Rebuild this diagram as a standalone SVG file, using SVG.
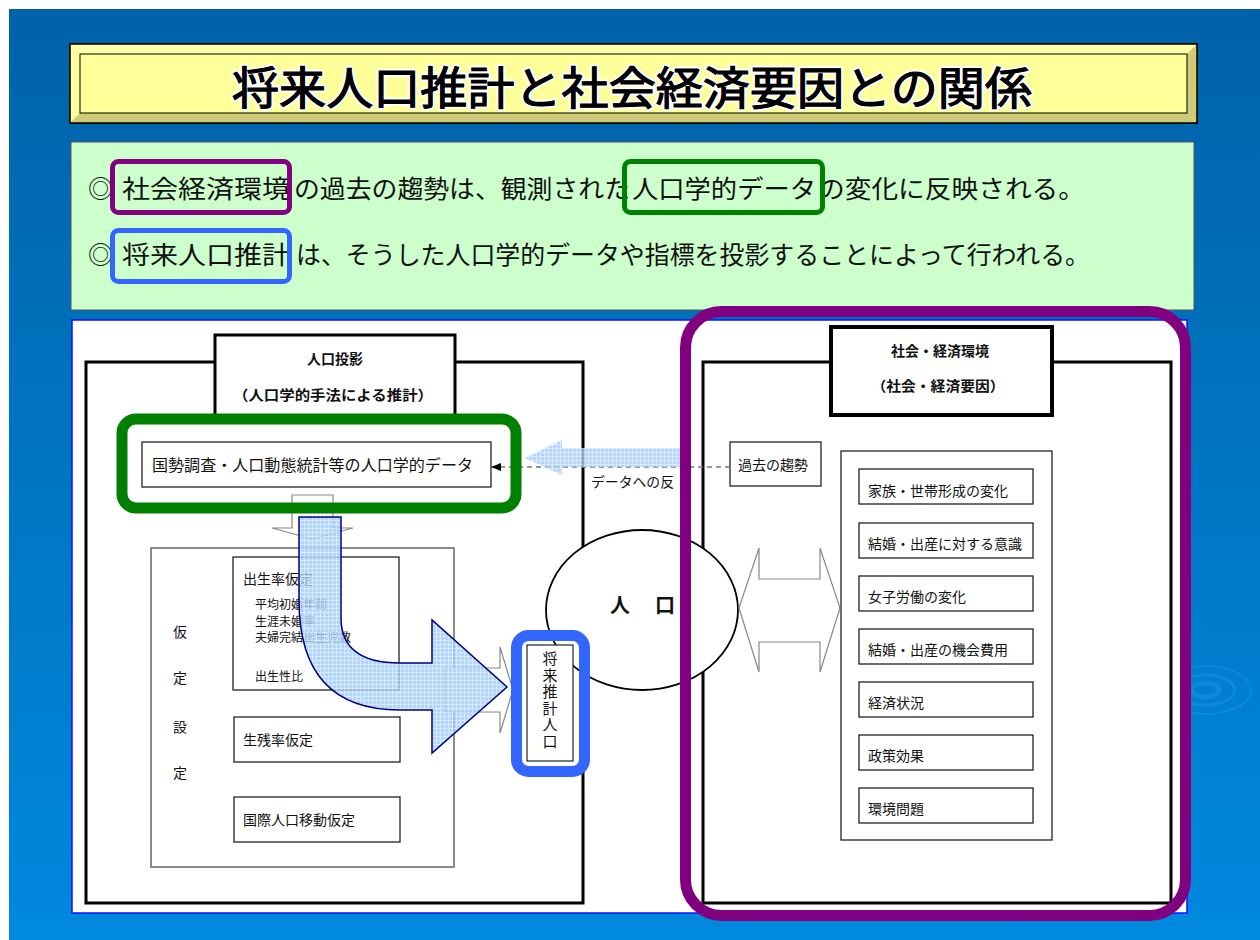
<svg xmlns="http://www.w3.org/2000/svg" width="1260" height="940" viewBox="0 0 1260 940">
<defs>
<linearGradient id="bg" x1="0" y1="0" x2="0" y2="1">
<stop offset="0" stop-color="#0062a8"/>
<stop offset="1" stop-color="#0089de"/>
</linearGradient>
<pattern id="grid" width="4" height="4" patternUnits="userSpaceOnUse">
<rect width="4" height="4" fill="#a4ccfa"/>
<path d="M0 0.5H4M0.5 0V4" stroke="#cfe5ff" stroke-width="1"/>
</pattern>
<marker id="ah" markerWidth="10" markerHeight="8" refX="9" refY="4" orient="auto" markerUnits="userSpaceOnUse">
<path d="M0,0 L10,4 L0,8 Z" fill="#000"/>
</marker>
<style>
text{font-family:'Noto Sans CJK JP','Noto Sans CJK SC',sans-serif;fill:#111}
.t14{font-size:14px}
.t12{font-size:12px}
.b{font-weight:bold}
.box{fill:#fff;stroke:#222;stroke-width:1.3}
.gbox{fill:#fff;stroke:#666;stroke-width:1.5}
.thick{fill:#fff;stroke:#000;stroke-width:3}
.outline{fill:#fff;stroke:#888;stroke-width:1.2}
.hl{fill:none;stroke-width:5}
</style>
</defs>

<rect width="1260" height="940" fill="#fff"/>
<rect x="9" y="9" width="1251" height="931" fill="url(#bg)"/>
<g fill="none" stroke="#1f93ee" stroke-opacity="0.45">
<ellipse cx="1205" cy="690" rx="14" ry="7" stroke-width="5"/>
<ellipse cx="1205" cy="690" rx="30" ry="15" stroke-width="3"/>
<ellipse cx="1205" cy="690" rx="46" ry="24" stroke-width="2"/>
</g>

<g id="title">
<rect x="70" y="44" width="1127" height="79" fill="#ffff99" stroke="#000" stroke-width="1.5"/>
<polygon points="70,44 1197,44 1187,54 80,54" fill="#ffffa8"/>
<polygon points="70,44 80,54 80,113 70,123" fill="#ffffa0"/>
<polygon points="70,123 80,113 1187,113 1197,123" fill="#cccc77"/>
<polygon points="1197,44 1197,123 1187,113 1187,54" fill="#cccc77"/>
<rect x="70" y="44" width="1127" height="79" fill="none" stroke="#000" stroke-width="1.5"/>
<rect x="80" y="54" width="1107" height="59" fill="none" stroke="#000" stroke-width="1"/>
<text x="232" y="105" font-size="45" textLength="800" lengthAdjust="spacingAndGlyphs" stroke="#fff" stroke-width="5" stroke-linejoin="round" paint-order="stroke" style="fill:#000">将来人口推計と社会経済要因との関係</text>
<text x="232" y="105" font-size="45" textLength="800" lengthAdjust="spacingAndGlyphs" stroke="#000" stroke-width="1.1" style="fill:#000">将来人口推計と社会経済要因との関係</text>
</g>

<g id="summary">
<rect x="71" y="142" width="1123" height="168" fill="#ccffcc" stroke="#555" stroke-width="1"/>
<text x="88" y="198" font-size="25">◎</text>
<text x="122" y="198" font-size="25" textLength="168" lengthAdjust="spacingAndGlyphs">社会経済環境</text>
<text x="294" y="198" font-size="25" textLength="336" lengthAdjust="spacingAndGlyphs">の過去の趨勢は、観測された</text>
<text x="632" y="198" font-size="25" textLength="184" lengthAdjust="spacingAndGlyphs">人口学的データ</text>
<text x="818" y="198" font-size="25" textLength="267" lengthAdjust="spacingAndGlyphs">の変化に反映される。</text>
<text x="88" y="264" font-size="25">◎</text>
<text x="122" y="264" font-size="25" textLength="168" lengthAdjust="spacingAndGlyphs">将来人口推計</text>
<text x="296" y="264" font-size="25" textLength="794" lengthAdjust="spacingAndGlyphs">は、そうした人口学的データや指標を投影することによって行われる。</text>
<rect class="hl" x="112.5" y="161.5" width="177" height="51" rx="6" stroke="#800080"/>
<rect class="hl" x="624.5" y="161.5" width="198" height="51" rx="6" stroke="#008000"/>
<rect class="hl" x="112.5" y="230.5" width="177" height="51" rx="6" stroke="#3366ff"/>
</g>

<rect x="72" y="320" width="1115" height="593" fill="#fff" stroke="#1010ff" stroke-width="1.5"/>

<g id="projection">
<rect class="thick" x="86" y="362" width="497" height="541"/>
<rect class="thick" x="215" y="335" width="240" height="85"/>
<text class="t14 b" x="335" y="364" text-anchor="middle" font-size="15">人口投影</text>
<text class="t14 b" x="333" y="400" text-anchor="middle" textLength="200" lengthAdjust="spacingAndGlyphs">（人口学的手法による推計）</text>
</g>

<g id="data">
<rect class="box" x="142" y="442" width="349" height="45"/>
<text x="152" y="471" font-size="15.5" textLength="321" lengthAdjust="spacingAndGlyphs">国勢調査・人口動態統計等の人口学的データ</text>
</g>

<g id="assumptions">
<rect class="gbox" x="151" y="548" width="303" height="319"/>
<text class="t14" x="180" y="637" text-anchor="middle" font-size="15">仮</text>
<text class="t14" x="180" y="683" text-anchor="middle" font-size="15">定</text>
<text class="t14" x="180" y="732" text-anchor="middle" font-size="15">設</text>
<text class="t14" x="180" y="778" text-anchor="middle" font-size="15">定</text>
</g>
<g id="fertility">
<rect class="box" x="233" y="557" width="166" height="133"/>
<text class="t14" x="243" y="584">出生率仮定</text>
<text class="t12" x="255" y="609">平均初婚年齢</text>
<text class="t12" x="255" y="626">生涯未婚率</text>
<text class="t12" x="255" y="642">夫婦完結出生児数</text>
<text class="t12" x="255" y="681">出生性比</text>
</g>
<g id="survival">
<rect class="box" x="234" y="717" width="166" height="45"/>
<text class="t14" x="243" y="745">生残率仮定</text>
</g>
<g id="migration">
<rect class="box" x="234" y="797" width="166" height="45"/>
<text class="t14" x="243" y="825">国際人口移動仮定</text>
</g>

<g id="socio">
<rect class="thick" x="703" y="362" width="468" height="541"/>
<rect class="thick" x="831" y="327" width="221" height="88" style="stroke-width:4"/>
<text class="t14 b" x="940" y="356" text-anchor="middle" font-size="15">社会・経済環境</text>
<text class="t14 b" x="938" y="391" text-anchor="middle" textLength="133" lengthAdjust="spacingAndGlyphs">（社会・経済要因）</text>
</g>
<g id="trend">
<rect class="box" x="730" y="442" width="91" height="44"/>
<text class="t14" x="738" y="470">過去の趨勢</text>
</g>
<g id="factors">
<rect class="box" x="841" y="451" width="211" height="389"/>
<rect class="box" x="859" y="469" width="174" height="35"/>
<text class="t14" x="868" y="496">家族・世帯形成の変化</text>
<rect class="box" x="859" y="523" width="174" height="35"/>
<text class="t14" x="868" y="549">結婚・出産に対する意識</text>
<rect class="box" x="859" y="576" width="174" height="35"/>
<text class="t14" x="868" y="602">女子労働の変化</text>
<rect class="box" x="859" y="629" width="174" height="35"/>
<text class="t14" x="868" y="655">結婚・出産の機会費用</text>
<rect class="box" x="859" y="682" width="174" height="35"/>
<text class="t14" x="868" y="708">経済状況</text>
<rect class="box" x="859" y="735" width="174" height="35"/>
<text class="t14" x="868" y="761">政策効果</text>
<rect class="box" x="859" y="788" width="174" height="35"/>
<text class="t14" x="868" y="814">環境問題</text>
</g>

<g id="connectors">
<path class="outline" d="M292,495 L333,495 L333,528 L353,528 L312,539 L272,528 L292,528 Z"/>
<path class="outline" d="M445,668 L500,668 L500,647 L513,690 L500,733 L500,712 L445,712 Z"/>
<line x1="730" y1="467" x2="492" y2="467" stroke="#777" stroke-width="1.3" stroke-dasharray="5,4" marker-end="url(#ah)"/>
<text class="t14" x="591" y="487" textLength="83" lengthAdjust="spacingAndGlyphs">データへの反</text>
<path d="M525,458 L562,440 L562,448 L680,448 L680,467 L562,467 L562,475 Z" fill="url(#grid)" opacity="0.8"/>
<path d="M299,517 L341,517 L341,618 Q341,663 400,663 L432,663 L432,620 L507,687 L432,753 L432,710 L400,710 Q299,710 299,600 Z" fill="url(#grid)" fill-opacity="0.82" stroke="#000080" stroke-width="1.5"/>
</g>

<g id="data-highlight">
<rect x="122" y="419" width="394" height="89" rx="14" fill="none" stroke="#008000" stroke-width="11"/>
</g>

<g id="population">
<ellipse cx="642" cy="610" rx="96" ry="80" fill="#fff" stroke="#000" stroke-width="1.8"/>
<text x="620" y="613" text-anchor="middle" font-size="20" font-weight="bold">人</text>
<text x="665" y="613" text-anchor="middle" font-size="20" font-weight="bold">口</text>
</g>

<g id="exchange">
<path class="outline" d="M739,608 L759,548 L759,579 L820,579 L820,548 L840,608 L820,672 L820,642 L759,642 L759,672 Z"/>
</g>

<g id="future">
<rect x="527" y="645" width="46" height="116" fill="#fff" stroke="#222" stroke-width="1.2"/>
<text x="550" y="651" font-size="15" writing-mode="vertical-rl" letter-spacing="1.5">将来推計人口</text>
<rect x="516.5" y="635.5" width="68" height="136" rx="12" fill="none" stroke="#3366ff" stroke-width="11"/>
</g>

<g id="socio-highlight">
<rect x="685.5" y="311.5" width="500" height="604" rx="36" fill="none" stroke="#800080" stroke-width="11"/>
</g>
</svg>
